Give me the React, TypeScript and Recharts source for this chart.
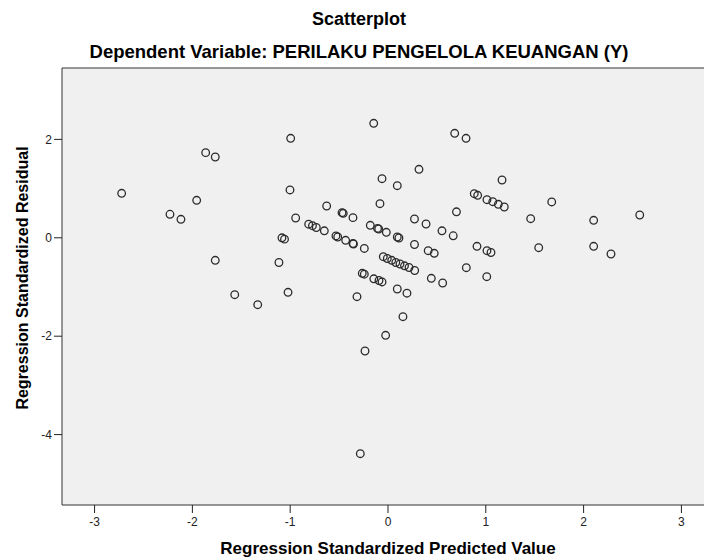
import {
  ScatterChart,
  Scatter,
  XAxis,
  YAxis,
  CartesianGrid,
  ReferenceLine,
} from "recharts";

const TITLE = "Scatterplot";
const SUBTITLE = "Dependent Variable: PERILAKU PENGELOLA KEUANGAN (Y)";
const X_TITLE = "Regression Standardized Predicted Value";
const Y_TITLE = "Regression Standardized Residual";

const X_TICKS = [-3, -2, -1, 0, 1, 2, 3];
const Y_TICKS = [-4, -2, 0, 2];

// visible extent of the (cropped) SPSS plot frame
const X_DOMAIN = [-3.333, 3.231];
const Y_DOMAIN = [-5.431, 3.451];

// Regression Standardized Predicted Value
const predicted = [
  -2.723, -2.229, -2.117, -1.956, -1.864, -1.766, -1.766, -1.567, -1.332, -1.115,
  -1.084, -1.058, -1.022, -1.002, -0.995, -0.944, -0.811, -0.772, -0.733, -0.651,
  -0.627, -0.532, -0.514, -0.47, -0.457, -0.433, -0.358, -0.358, -0.353, -0.317,
  -0.283, -0.263, -0.242, -0.242, -0.235, -0.181, -0.146, -0.145, -0.107, -0.095,
  -0.092, -0.082, -0.061, -0.061, -0.048, -0.024, -0.017, -0.007, 0.038, 0.08,
  0.095, 0.095, 0.112, 0.095, 0.123, 0.153, 0.169, 0.194, 0.215, 0.273,
  0.271, 0.271, 0.317, 0.389, 0.411, 0.443, 0.473, 0.552, 0.559, 0.667,
  0.682, 0.7, 0.798, 0.801, 0.882, 0.917, 0.91, 1.01, 1.012, 1.012,
  1.053, 1.071, 1.128, 1.166, 1.189, 1.459, 1.541, 1.674, 2.103, 2.103,
  2.28, 2.574,
];

// Regression Standardized Residual
const residual = [
  0.904, 0.478, 0.376, 0.762, 1.73, 1.642, -0.457, -1.157, -1.36, -0.502,
  0.0, -0.028, -1.108, 0.972, 2.022, 0.402, 0.276, 0.246, 0.209, 0.142,
  0.646, 0.037, 0.016, 0.51, 0.498, -0.051, 0.409, -0.116, -0.126, -1.197,
  -4.388, -0.722, -0.74, -0.217, -2.301, 0.254, 2.327, -0.833, 0.191, 0.179,
  -0.868, 0.693, 1.201, -0.898, -0.384, -1.982, 0.112, -0.421, -0.457, -0.502,
  1.059, 0.016, -0.004, -1.041, -0.533, -1.604, -0.569, -1.126, -0.604, -0.665,
  0.382, -0.136, 1.392, 0.28, -0.262, -0.823, -0.315, 0.142, -0.919, 0.041,
  2.124, 0.528, 2.022, -0.608, 0.896, 0.864, -0.173, -0.791, 0.774, -0.262,
  -0.299, 0.734, 0.681, 1.175, 0.626, 0.388, -0.201, 0.728, 0.356, -0.173,
  -0.329, 0.463,
];

const points = predicted.map((x, i) => ({ x, y: residual[i] }));

const FONT = "'Liberation Sans', Arial, sans-serif";

const OpenCircle = (props: any) => (
  <circle
    cx={props.cx}
    cy={props.cy}
    r={3.8}
    fill="none"
    stroke="#2b2b2b"
    strokeWidth={1.3}
  />
);

export default function App() {
  return (
    <div
      style={{
        position: "absolute",
        left: 0,
        top: 0,
        width: 704,
        height: 558,
        background: "#fff",
        fontFamily: FONT,
      }}
    >
      <ScatterChart
        width={704}
        height={558}
        margin={{ top: 68, right: 0, bottom: 0, left: 0 }}
      >
        <CartesianGrid fill="#f0f0f0" horizontal={false} vertical={false} />
        <XAxis
          type="number"
          dataKey="x"
          domain={X_DOMAIN}
          ticks={X_TICKS}
          allowDataOverflow
          height={53}
          tickSize={8}
          tickMargin={4}
          axisLine={{ stroke: "#333" }}
          tickLine={{ stroke: "#222" }}
          tick={{ fill: "#222", fontSize: 12, fontFamily: FONT }}
        />
        <YAxis
          type="number"
          dataKey="y"
          domain={Y_DOMAIN}
          ticks={Y_TICKS}
          allowDataOverflow
          width={62}
          tickSize={8}
          tickMargin={2}
          axisLine={{ stroke: "#333" }}
          tickLine={{ stroke: "#222" }}
          tick={{ fill: "#222", fontSize: 12, fontFamily: FONT }}
        />
        <ReferenceLine y={Y_DOMAIN[1]} stroke="#333" />
        <Scatter data={points} shape={OpenCircle} isAnimationActive={false} />
      </ScatterChart>
      <svg
        width={704}
        height={558}
        style={{ position: "absolute", left: 0, top: 0, pointerEvents: "none" }}
      >
        <g fontFamily={FONT} fontWeight="bold" fill="#000" textAnchor="middle">
          <text x={359} y={25} fontSize={18}>
            {TITLE}
          </text>
          <text x={359} y={58} fontSize={18.5}>
            {SUBTITLE}
          </text>
          <text x={388} y={554} fontSize={17}>
            {X_TITLE}
          </text>
          <text x={28} y={278} fontSize={16} transform="rotate(-90 28 278)">
            {Y_TITLE}
          </text>
        </g>
      </svg>
    </div>
  );
}
